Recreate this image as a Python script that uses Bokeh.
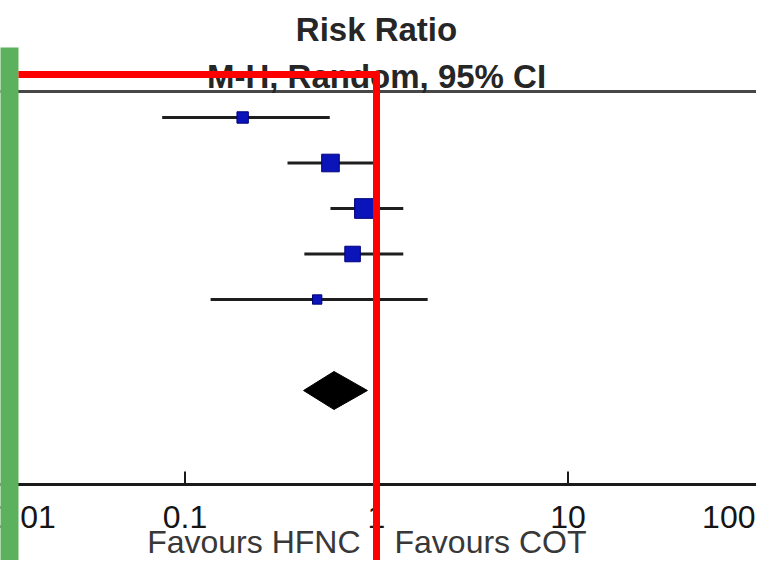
from bokeh.plotting import figure
from bokeh.models import Range1d
from bokeh.core.properties import value
from bokeh.embed import file_html
from bokeh.resources import INLINE

# ---------------- data ----------------
rows = [1, 2, 3, 4, 5]
rr = [0.20, 0.575, 0.865, 0.75, 0.49]
ci_low = [0.076, 0.343, 0.575, 0.42, 0.136]
ci_high = [0.57, 0.98, 1.38, 1.38, 1.85]
weights = [11.2, 26.8, 33.5, 20.9, 7.6]

pooled_row = 7
pooled_rr = 0.60
pooled_low = 0.416
pooled_high = 0.897

tick_values = [0.01, 0.1, 1, 10, 100]
tick_labels = ["0.01", "0.1", "1", "10", "100"]

title1 = "Risk Ratio"
title2 = "M-H, Random, 95% CI"
left_label = "Favours HFNC"
right_label = "Favours COT"

# ---------------- layout helpers (styling only) ----------------
X_ONE_PX = 376.0
DECADE_PX = 191.5
ROW1_PX = 117.0
ROW_STEP_PX = 45.5
W, H = 756, 560


def xd(px):
    return 10 ** ((px - X_ONE_PX) / DECADE_PX)


def yd(py):
    return (py - ROW1_PX) / ROW_STEP_PX + 1


FONT = value("Liberation Sans")

p = figure(width=W, height=H, output_backend="svg", toolbar_location=None,
           x_axis_type="log", x_axis_location=None, y_axis_location=None,
           x_range=Range1d(xd(0), xd(W)),
           y_range=Range1d(yd(H), yd(0)),
           min_border=0, outline_line_color=None,
           background_fill_color="white", border_fill_color="white")
p.grid.visible = False

# header rule
p.segment(x0=[xd(-10)], y0=[yd(91)], x1=[xd(800)], y1=[yd(91)],
          line_color="#474747", line_width=3)

# confidence intervals
p.segment(x0=ci_low, y0=rows, x1=ci_high, y1=rows,
          line_color="#1e1e1e", line_width=3)

# study squares, size by weight
sizes = [3.4 * w ** 0.5 for w in weights]
p.scatter(x=rr, y=rows, size=sizes, marker="square",
          fill_color="#0a14b8", line_color="#00007a", line_width=1)

# pooled diamond
half_h = 19.0 / ROW_STEP_PX
p.patch(x=[pooled_low, pooled_rr, pooled_high, pooled_rr],
        y=[pooled_row, pooled_row - half_h, pooled_row, pooled_row + half_h],
        fill_color="black", line_color="black")

# axis line and ticks
axis_y = yd(484)
p.segment(x0=[xd(-10)], y0=[axis_y], x1=[xd(800)], y1=[axis_y],
          line_color="#1a1a1a", line_width=3)
p.segment(x0=tick_values, y0=[axis_y] * len(tick_values),
          x1=tick_values, y1=[yd(471)] * len(tick_values),
          line_color="#1a1a1a", line_width=2)

# tick labels
lab_y = yd(516)
p.text(x=tick_values[:1], y=[lab_y], text=tick_labels[:1], text_align="left",
       text_baseline="middle", text_font=FONT, text_font_size=value("32px"),
       text_color="#151515")
p.text(x=tick_values[1:-1], y=[lab_y] * 3, text=tick_labels[1:-1], text_align="center",
       text_baseline="middle", text_font=FONT, text_font_size=value("32px"),
       text_color="#151515")
p.text(x=tick_values[-1:], y=[lab_y], text=tick_labels[-1:], text_align="right",
       x_offset=-4, text_baseline="middle", text_font=FONT,
       text_font_size=value("32px"), text_color="#151515")

# favours labels
fav_y = yd(541)
p.text(x=[1], y=[fav_y], text=[left_label], text_align="right", x_offset=-16,
       text_baseline="middle", text_font=FONT, text_font_size=value("32px"),
       text_color="#383838")
p.text(x=[1], y=[fav_y], text=[right_label], text_align="left", x_offset=18,
       text_baseline="middle", text_font=FONT, text_font_size=value("32px"),
       text_color="#383838")

# headings
p.text(x=[1], y=[yd(29)], text=[title1], text_align="center",
       text_baseline="middle", text_font=FONT, text_font_size=value("33px"),
       text_font_style="bold", text_color="#262626")
p.text(x=[1], y=[yd(76)], text=[title2], text_align="center",
       text_baseline="middle", text_font=FONT, text_font_size=value("33px"),
       text_font_style="bold", text_color="#262626")

# green side bar
p.quad(left=[xd(-20)], right=[xd(18)], top=[yd(47)], bottom=[yd(700)],
       fill_color="#5cb25c", line_color=None)

# red highlight lines
p.segment(x0=[1], y0=[yd(70.5)], x1=[1], y1=[yd(700)],
          line_color="#ff0000", line_width=7, line_cap="butt")
p.segment(x0=[xd(18)], y0=[yd(74)], x1=[xd(378.5)], y1=[yd(74)],
          line_color="#ff0000", line_width=7, line_cap="butt")

open("out.html", "w").write(file_html(p, INLINE))
